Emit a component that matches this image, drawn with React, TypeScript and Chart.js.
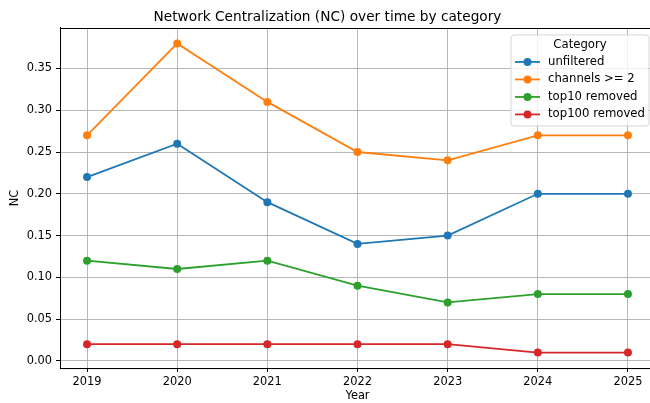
import React, { useEffect, useRef } from "react";
import { Chart, registerables } from "chart.js";

Chart.register(...registerables);

const years = [2019, 2020, 2021, 2022, 2023, 2024, 2025];
const unfiltered = [0.22, 0.26, 0.19, 0.14, 0.15, 0.2, 0.2];
const channels2 = [0.27, 0.38, 0.31, 0.25, 0.24, 0.27, 0.27];
const top10Removed = [0.12, 0.11, 0.12, 0.09, 0.07, 0.08, 0.08];
const top100Removed = [0.02, 0.02, 0.02, 0.02, 0.02, 0.01, 0.01];
const seriesNames = ["unfiltered", "channels >= 2", "top10 removed", "top100 removed"];
const seriesColors = ["#1f77b4", "#ff7f0e", "#2ca02c", "#d62728"];
const yTicks = [0, 0.05, 0.1, 0.15, 0.2, 0.25, 0.3, 0.35];

const FONT = "'DejaVu Sans', sans-serif";
const FS = 11.4;

const framePlugin = {
  id: "frame",
  afterDatasetsDraw(chart: any) {
    const { ctx, chartArea: a } = chart;
    ctx.save();
    ctx.strokeStyle = "#000";
    ctx.lineWidth = 1;
    ctx.strokeRect(Math.round(a.left) + 0.5, Math.round(a.top) + 0.5, a.right - a.left, a.bottom - a.top);
    ctx.restore();
  },
};

const legendPlugin = {
  id: "mplLegend",
  afterDraw(chart: any) {
    const { ctx, chartArea: a } = chart;
    const w = 138;
    const h = 91;
    const x = a.right - 6 - w;
    const y = a.top + 7;
    ctx.save();
    ctx.beginPath();
    const r = 3;
    ctx.moveTo(x + r, y);
    ctx.arcTo(x + w, y, x + w, y + h, r);
    ctx.arcTo(x + w, y + h, x, y + h, r);
    ctx.arcTo(x, y + h, x, y, r);
    ctx.arcTo(x, y, x + w, y, r);
    ctx.closePath();
    ctx.fillStyle = "rgba(255,255,255,0.8)";
    ctx.fill();
    ctx.strokeStyle = "rgba(204,204,204,0.8)";
    ctx.lineWidth = 1;
    ctx.stroke();
    ctx.font = `${FS + 0.3}px ${FONT}`;
    ctx.fillStyle = "#000";
    ctx.textBaseline = "middle";
    ctx.textAlign = "center";
    ctx.fillText("Category", x + w / 2, y + 10);
    ctx.textAlign = "left";
    seriesNames.forEach((name, i) => {
      const cy = y + 27 + i * 17.5;
      ctx.strokeStyle = seriesColors[i];
      ctx.lineWidth = 1.8;
      ctx.beginPath();
      ctx.moveTo(x + 4, cy);
      ctx.lineTo(x + 29, cy);
      ctx.stroke();
      ctx.fillStyle = seriesColors[i];
      ctx.beginPath();
      ctx.arc(x + 16.5, cy, 4, 0, Math.PI * 2);
      ctx.fill();
      ctx.fillStyle = "#000";
      ctx.fillText(name, x + 37, cy);
    });
    ctx.restore();
  },
};

export default function App() {
  const ref = useRef<HTMLCanvasElement>(null);
  useEffect(() => {
    if (!ref.current) return;
    const allSeries = [unfiltered, channels2, top10Removed, top100Removed];
    const chart = new Chart(ref.current, {
      type: "line",
      data: {
        datasets: allSeries.map((vals, i) => ({
          label: seriesNames[i],
          data: years.map((yr, j) => ({ x: yr, y: vals[j] })),
          borderColor: seriesColors[i],
          backgroundColor: seriesColors[i],
          borderWidth: 1.8,
          pointRadius: 4,
          pointBorderWidth: 0,
          pointHoverRadius: 4,
          tension: 0,
          fill: false,
        })),
      },
      options: {
        responsive: false,
        animation: false,
        layout: { padding: { left: 0, right: 60, top: 0, bottom: 0 } },
        plugins: {
          legend: { display: false },
          tooltip: { enabled: false },
          title: {
            display: true,
            text: "Network Centralization (NC) over time by category",
            color: "#000",
            font: { family: FONT, size: 13.7, weight: "normal" },
            padding: { top: 9.5, bottom: 2 },
          },
        },
        scales: {
          x: {
            type: "linear",
            min: 2018.7,
            max: 2025.3,
            afterBuildTicks: (s: any) => {
              s.ticks = years.map((v) => ({ value: v }));
            },
            afterFit: (s: any) => {
              s.height = 35;
            },
            ticks: {
              color: "#000",
              font: { family: FONT, size: FS },
              padding: 3,
              maxRotation: 0,
              autoSkip: false,
              callback: (v: any) => String(v),
            },
            grid: { color: "#b0b0b0", lineWidth: 0.9, tickColor: "#000", tickLength: 4, tickWidth: 1 },
            border: { display: true, color: "#000", width: 1 },
            title: {
              display: true,
              text: "Year",
              color: "#000",
              font: { family: FONT, size: FS },
              padding: { top: 0, bottom: 0 },
            },
          },
          y: {
            type: "linear",
            min: -0.0085,
            max: 0.3985,
            afterBuildTicks: (s: any) => {
              s.ticks = yTicks.map((v) => ({ value: v }));
            },
            afterFit: (s: any) => {
              s.width = 60;
            },
            ticks: {
              color: "#000",
              font: { family: FONT, size: FS },
              padding: 4,
              autoSkip: false,
              callback: (v: any) => Number(v).toFixed(2),
            },
            grid: { color: "#b0b0b0", lineWidth: 0.9, tickColor: "#000", tickLength: 4, tickWidth: 1 },
            border: { display: true, color: "#000", width: 1 },
            title: {
              display: true,
              text: "NC",
              color: "#000",
              font: { family: FONT, size: FS },
              padding: { top: 8, bottom: 0 },
            },
          },
        },
      },
      plugins: [framePlugin, legendPlugin],
    } as any);
    return () => chart.destroy();
  }, []);
  return (
    <div style={{ position: "fixed", left: 0, top: 0, width: 650, height: 403, overflow: "hidden", background: "#fff" }}>
      <canvas ref={ref} width={715} height={403} style={{ display: "block" }} />
    </div>
  );
}
